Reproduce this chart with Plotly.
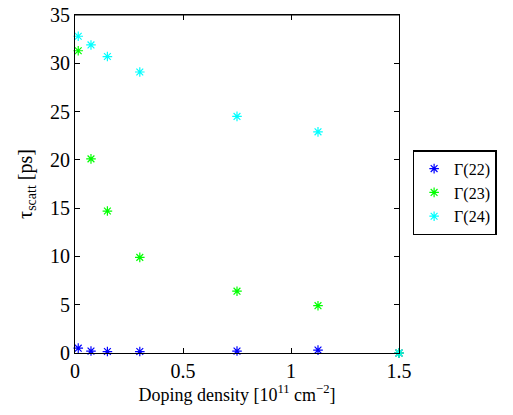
import plotly.graph_objects as go

doping = [0.015, 0.074, 0.15, 0.30, 0.75, 1.125, 1.5]
gamma22 = [0.5, 0.2, 0.15, 0.15, 0.2, 0.3, 0.0]
gamma23 = [31.3, 20.1, 14.7, 9.9, 6.4, 4.9, 0.0]
gamma24 = [32.8, 31.9, 30.7, 29.1, 24.5, 22.9, 0.0]
names = ["Γ(22)", "Γ(23)", "Γ(24)"]
colors = ["#0000ff", "#00ff00", "#00ffff"]

fig = go.Figure()
for ys, nm, c in zip([gamma22, gamma23, gamma24], names, colors):
    fig.add_trace(go.Scatter(
        x=doping, y=ys, mode="markers", name=nm,
        marker=dict(symbol="asterisk-open", size=8, color=c,
                    line=dict(color=c, width=1.2)),
        cliponaxis=False,
    ))

font = "Liberation Serif"
fig.update_layout(
    width=513, height=415,
    margin=dict(l=75, r=114, t=15, b=62, autoexpand=False),
    paper_bgcolor="white", plot_bgcolor="white",
    font=dict(family=font, size=20, color="black"),
    showlegend=True,
    legend=dict(x=1.042, y=0.60, xanchor="left", yanchor="top",
                bordercolor="black", borderwidth=1.5, bgcolor="white",
                font=dict(family=font, size=16), itemwidth=30, tracegroupgap=0),
    xaxis=dict(range=[0, 1.5], tickvals=[0, 0.5, 1, 1.5],
               ticktext=["0", "0.5", "1", "1.5"], automargin=False,
               tickfont=dict(family=font, size=20),
               ticks="inside", ticklen=5, tickcolor="black",
               showline=True, linecolor="black", linewidth=1, mirror="ticks",
               showgrid=False, zeroline=False,
               title=dict(text="Doping density [10<sup>11</sup> cm<sup>−2</sup>]",
                          font=dict(family=font, size=18), standoff=5)),
    yaxis=dict(range=[0, 35], tickvals=[0, 5, 10, 15, 20, 25, 30, 35],
               tickfont=dict(family=font, size=20), automargin=False,
               ticks="inside", ticklen=5, tickcolor="black",
               showline=True, linecolor="black", linewidth=1, mirror="ticks",
               showgrid=False, zeroline=False,
               title=dict(text="τ<sub>scatt</sub> [ps]",
                          font=dict(family=font, size=20), standoff=12)),
    shapes=[dict(type="line", xref="paper", yref="paper", x0=0, x1=1, y0=1, y1=1,
                 line=dict(color="black", width=1), layer="above")],
)

fig.write_html("out.html", config={"displayModeBar": False},
               post_script="document.body.style.margin='0';")
